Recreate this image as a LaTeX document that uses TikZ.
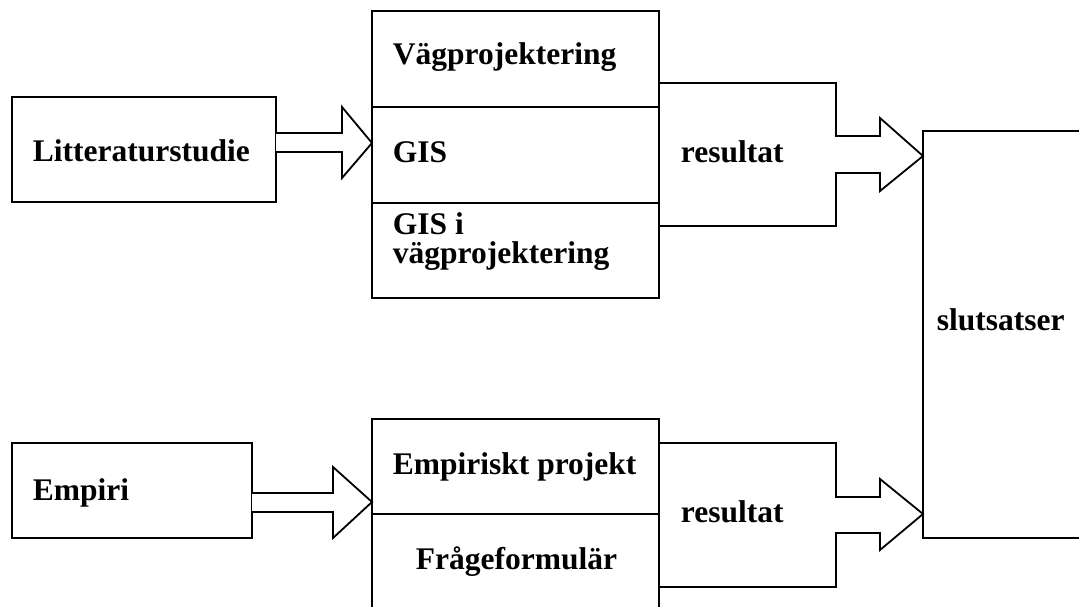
\documentclass[tikz,border=0pt]{standalone}
\usepackage{fontspec}
\setmainfont{Liberation Serif}
\usetikzlibrary{calc}
\begin{document}
\begin{tikzpicture}[x=1pt,y=-1pt,line width=1.8pt,line join=miter,
  boxnode/.style={draw,rectangle,inner sep=0pt,outer sep=0pt,anchor=north west},
  lbl/.style={inner sep=0pt,anchor=base west,font=\fontsize{31.5}{34}\selectfont\bfseries},
  blockarrow/.style={draw,fill=white}]
\useasboundingbox (0,0) rectangle (1079,607);
% boxes
\node[boxnode,minimum width=264pt,minimum height=105pt] (lit) at (12,97) {};
\node[boxnode,minimum width=287pt,minimum height=96pt] (vag) at (372,11) {};
\node[boxnode,minimum width=287pt,minimum height=96pt] (gis) at (372,107) {};
\node[boxnode,minimum width=287pt,minimum height=95pt] (gisv) at (372,203) {};
\node[boxnode,minimum width=240pt,minimum height=95pt] (emp) at (12,443) {};
\node[boxnode,minimum width=287pt,minimum height=95pt] (ep) at (372,419) {};
\node[boxnode,minimum width=287pt,minimum height=110pt] (ff) at (372,514) {};
\node[boxnode,minimum width=200pt,minimum height=407pt] (slut) at (923,131) {};
% block arrows into middle boxes
\draw[blockarrow] (lit.east |- 0,133) -- (342,133) -- (342,107) -- (gis.west |- 0,143)
  -- (342,178) -- (342,152) -- (lit.east |- 0,152);
\draw[blockarrow] (emp.east |- 0,493) -- (333,493) -- (333,467) -- (ep.west |- 0,502)
  -- (333,538) -- (333,512) -- (emp.east |- 0,512);
% resultat shapes
\draw (vag.east |- 0,83) -- (836,83) -- (836,136) -- (880,136) -- (880,118)
  -- (slut.west |- 0,156) -- (880,191) -- (880,173) -- (836,173) -- (836,226) -- (gisv.east |- 0,226);
\draw (ep.east |- 0,443) -- (836,443) -- (836,497) -- (880,497) -- (880,479)
  -- (slut.west |- 0,514) -- (880,550) -- (880,533) -- (836,533) -- (836,587) -- (ff.east |- 0,587);
% texts
\node[lbl] (tlit) at (32,161) {Litteraturstudie};
\node[lbl] (tvag) at (392,65) {Vägprojektering};
\node[lbl] (tgis) at (392,163) {GIS};
\node[lbl] (tgisv1) at (392,234) {GIS i};
\node[lbl] (tgisv2) at (392,263) {vägprojektering};
\node[lbl] (tres1) at (680,163) {resultat};
\node[lbl] (tres2) at (680,522) {resultat};
\node[lbl] (tslut) at (936,330) {slutsatser};
\node[lbl] (temp) at (32,500) {Empiri};
\node[lbl] (tep) at (392,474) {Empiriskt projekt};
\node[lbl] (tff) at (415,569) {Frågeformulär};
\end{tikzpicture}
\end{document}
